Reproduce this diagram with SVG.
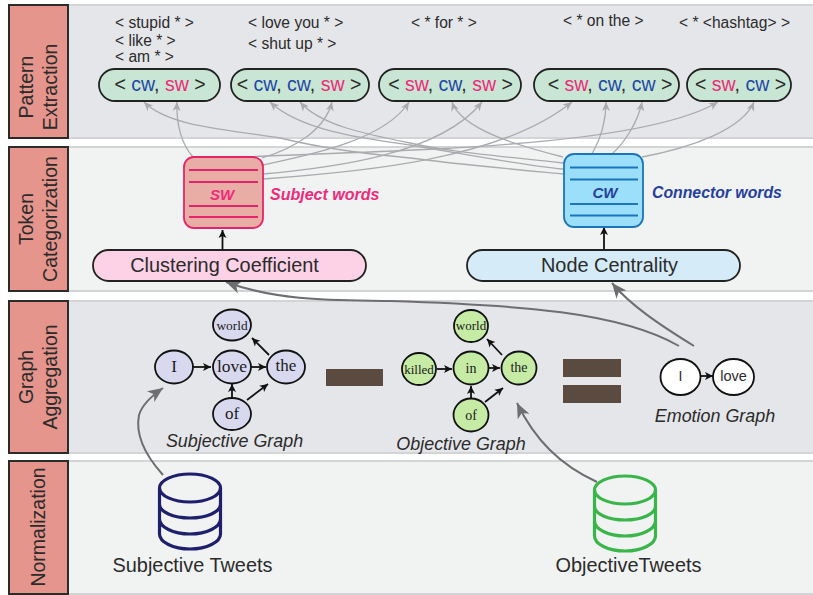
<svg xmlns="http://www.w3.org/2000/svg" width="813" height="595" viewBox="0 0 813 595">
<defs>
<marker id="ag" markerUnits="userSpaceOnUse" markerWidth="10" markerHeight="10" refX="9" refY="5" orient="auto" viewBox="0 0 10 10"><path d="M0,1 L9,5 L0,9 L2.5,5Z" fill="#a9abae"/></marker>
<marker id="ad" markerUnits="userSpaceOnUse" markerWidth="16" markerHeight="16" refX="15" refY="8" orient="auto" viewBox="0 0 16 16"><path d="M0,1.5 L15,8 L0,14.5 L4,8Z" fill="#6d6e71"/></marker>
<marker id="ab" markerUnits="userSpaceOnUse" markerWidth="10" markerHeight="10" refX="9" refY="5" orient="auto" viewBox="0 0 10 10"><path d="M1,1 L9,5 L1,9 L3,5Z" fill="#111"/></marker>
</defs>
<style>
text{font-family:"Liberation Sans",Arial,sans-serif;fill:#2b2b2b}
.ser{font-family:"Liberation Serif","Times New Roman",serif;text-anchor:middle;fill:#1a1a1a}
.m{text-anchor:middle}
.band1{fill:#e5e6e9;stroke:#d3d4d6;stroke-width:2}
.band2{fill:#f1f3f3;stroke:#d3d4d6;stroke-width:2}
.lab{fill:#e5958c;stroke:#2b2b2b;stroke-width:2}
.labt{font-size:19.500px;text-anchor:middle}
.pat{font-size:15.600px}
.pill{fill:#c8e6d3;stroke:#222;stroke-width:1.8}
.pt{font-size:19.500px;text-anchor:middle}
.c{fill:#1f46a5}
.s{fill:#ee2a7b}
.g{fill:none;stroke:#a9abae;stroke-width:1.3;marker-end:url(#ag)}
.d{fill:none;stroke:#6d6e71;stroke-width:2;marker-end:url(#ad)}
.b{fill:none;stroke:#111;stroke-width:1.8;marker-end:url(#ab)}
.sn{fill:#d8d9ee;stroke:#111;stroke-width:1.8}
.on{fill:#c6eba5;stroke:#111;stroke-width:1.8}
.en{fill:#fff;stroke:#111;stroke-width:1.8}
.it{font-size:17.900px;font-style:italic;text-anchor:middle}
.bar{fill:#5b4a40}
.sl{stroke:#e6246b;stroke-width:1.8}
.cl{stroke:#1b75bc;stroke-width:1.8}
.big{font-size:19.900px;text-anchor:middle}
</style>
<g id="bands">
<rect class="band1" x="68" y="5" width="746" height="133"/>
<rect class="band2" x="68" y="147" width="746" height="144"/>
<rect class="band1" x="68" y="301" width="746" height="152"/>
<rect class="band2" x="68" y="461" width="746" height="133"/>
</g>
<g id="stage-pattern"><rect class="lab" x="9" y="5" width="59" height="133"/>
<text class="labt" transform="translate(33,87) rotate(-90)">Pattern</text>
<text class="labt" transform="translate(57,87) rotate(-90)">Extraction</text></g>
<g id="stage-token"><rect class="lab" x="9" y="147" width="59" height="144"/>
<text class="labt" transform="translate(33,219) rotate(-90)">Token</text>
<text class="labt" transform="translate(57,219) rotate(-90)">Categorization</text></g>
<g id="stage-graph"><rect class="lab" x="9" y="301" width="59" height="152"/>
<text class="labt" transform="translate(33,377) rotate(-90)">Graph</text>
<text class="labt" transform="translate(57,377) rotate(-90)">Aggregation</text></g>
<g id="stage-norm"><rect class="lab" x="9" y="461" width="59" height="133"/>
<text class="labt" transform="translate(45,527) rotate(-90)">Normalization</text></g>

<g id="patterns">
<text class="pat" x="115" y="28">&lt; stupid * &gt;</text>
<text class="pat" x="115" y="46">&lt; like * &gt;</text>
<text class="pat" x="115" y="62">&lt; am * &gt;</text>
<text class="pat" x="248" y="28">&lt; love you * &gt;</text>
<text class="pat" x="248" y="49">&lt; shut up * &gt;</text>
<text class="pat" x="411" y="28">&lt; * for * &gt;</text>
<text class="pat" x="563" y="26">&lt; * on the &gt;</text>
<text class="pat" x="679" y="28">&lt; * &lt;hashtag&gt; &gt;</text>
</g>

<g id="connectors">
<path class="g" d="M563,174 C510,169 455,164 410,158 C370,154 330,150 280,138 C235,130 170,128 144,102"/>
<path class="g" d="M193,157 C182,145 176,125 177,102"/>
<path class="g" d="M563,169 C520,165 470,155 410,145 C360,138 300,130 270,102"/>
<path class="g" d="M563,163 C500,156 450,152 410,143 C365,134 320,125 300,102"/>
<path class="g" d="M262,158 C295,148 325,130 332,102"/>
<path class="g" d="M263,165 C310,155 385,140 409,102"/>
<path class="g" d="M263,174 C330,168 440,155 482,102"/>
<path class="g" d="M563,157 C520,146 462,130 452,102"/>
<path class="g" d="M263,179 C360,172 500,160 572,102"/>
<path class="g" d="M592,154 C600,140 606,122 606,102"/>
<path class="g" d="M612,154 C625,142 638,122 642,102"/>
<path class="g" d="M242,157 C400,150 640,148 718,102"/>
<path class="g" d="M642,157 C690,148 742,130 754,102"/>
<path class="d" d="M679,346 C620,312 520,305 390,301 C340,300 280,302 226,282"/>
<path class="d" d="M694,346 C660,325 630,305 612,283"/>
<path class="d" d="M163,475 C145,455 135,435 139,415 C142,405 150,397 163,388"/>
<path class="d" d="M597,482 C560,465 535,440 517,403"/>
<path class="b" d="M222.500,250 L222.500,230"/>
<path class="b" d="M604,250 L604,227"/>
<path class="b" d="M193,367 L211,367"/>
<path class="b" d="M251,367 L266,367"/>
<path class="b" d="M269,355 L252,338"/>
<path class="b" d="M232,398 L232,384"/>
<path class="b" d="M247,400 L268,384"/>
<path class="b" d="M437,369 L452,369"/>
<path class="b" d="M489,368 L500,368"/>
<path class="b" d="M502,355 L487,339"/>
<path class="b" d="M471,399 L471,386"/>
<path class="b" d="M485,402 L503,388"/>
<path class="b" d="M701,376 L713,376"/>
</g>

<g id="pill1"><rect class="pill" x="99" y="69" width="121" height="32" rx="16"/>
<text class="pt" x="160" y="91">&lt; <tspan class="c">cw</tspan>, <tspan class="s">sw</tspan> &gt;</text></g>
<g id="pill2"><rect class="pill" x="231" y="69" width="138" height="32" rx="16"/>
<text class="pt" x="299" y="91">&lt; <tspan class="c">cw</tspan>, <tspan class="c">cw</tspan>, <tspan class="s">sw</tspan> &gt;</text></g>
<g id="pill3"><rect class="pill" x="379" y="69" width="142" height="32" rx="16"/>
<text class="pt" x="450.500" y="91">&lt; <tspan class="s">sw</tspan>, <tspan class="c">cw</tspan>, <tspan class="s">sw</tspan> &gt;</text></g>
<g id="pill4"><rect class="pill" x="534" y="69" width="145" height="32" rx="16"/>
<text class="pt" x="610" y="91">&lt; <tspan class="s">sw</tspan>, <tspan class="c">cw</tspan>, <tspan class="c">cw</tspan> &gt;</text></g>
<g id="pill5"><rect class="pill" x="687" y="69" width="104" height="32" rx="16"/>
<text class="pt" x="740.500" y="91">&lt; <tspan class="s">sw</tspan>, <tspan class="c">cw</tspan> &gt;</text></g>

<g id="sw-box"><rect x="184" y="157" width="79" height="71" rx="10" fill="#e8aea6" stroke="#e6246b" stroke-width="1.8"/>
<path class="sl" d="M189,170H258M189,182H258M189,206H258M189,217H258"/>
<text x="222" y="200" font-size="15" font-weight="bold" font-style="italic" text-anchor="middle" style="fill:#ee2a7b">SW</text></g>
<text x="270" y="200" font-size="16" font-weight="bold" font-style="italic" style="fill:#ee2a7b">Subject words</text>
<g id="cw-box"><rect x="564" y="154" width="79" height="73" rx="10" fill="#9bdffb" stroke="#1b75bc" stroke-width="1.8"/>
<path class="cl" d="M570,167.500H638M570,179.500H638M570,204H638M570,215.500H638"/>
<text x="605" y="198" font-size="15" font-weight="bold" font-style="italic" text-anchor="middle" style="fill:#26409c">CW</text></g>
<text x="652" y="198" font-size="15.800" font-weight="bold" font-style="italic" style="fill:#26409c">Connector words</text>

<g id="clustering"><rect x="93" y="250" width="273" height="31" rx="15.500" ry="15.500" fill="#fdd2e6" stroke="#222" stroke-width="1.8"/>
<text class="big" x="224.500" y="272">Clustering Coefficient</text></g>
<g id="centrality"><rect x="467" y="250" width="273" height="31" rx="15.500" ry="15.500" fill="#d5ecf8" stroke="#222" stroke-width="1.8"/>
<text class="big" x="609.500" y="272">Node Centrality</text></g>

<g id="subj-i"><ellipse class="sn" cx="174" cy="367" rx="19" ry="16.500"/><text class="ser" x="174" y="372" font-size="17">I</text></g>
<g id="subj-love"><ellipse class="sn" cx="232" cy="367" rx="19" ry="16.500"/><text class="ser" x="232" y="372" font-size="17.500">love</text></g>
<g id="subj-the"><ellipse class="sn" cx="286" cy="367" rx="19" ry="16.500"/><text class="ser" x="286" y="371" font-size="17">the</text></g>
<g id="subj-world"><ellipse class="sn" cx="232" cy="325" rx="19" ry="15.500"/><text class="ser" x="232" y="330" font-size="13.400">world</text></g>
<g id="subj-of"><ellipse class="sn" cx="232" cy="414" rx="19" ry="16"/><text class="ser" x="232" y="419" font-size="17">of</text></g>
<text class="it" x="234.500" y="447">Subjective Graph</text>
<rect class="bar" x="326" y="369" width="57" height="17"/>

<g id="obj-killed"><ellipse class="on" cx="419" cy="369" rx="17" ry="16"/><text class="ser" x="419" y="374" font-size="13">killed</text></g>
<g id="obj-in"><ellipse class="on" cx="471" cy="368" rx="17.500" ry="16.500"/><text class="ser" x="471" y="373" font-size="14">in</text></g>
<g id="obj-the"><ellipse class="on" cx="519" cy="368" rx="17.500" ry="16.500"/><text class="ser" x="519" y="372" font-size="14">the</text></g>
<g id="obj-world"><ellipse class="on" cx="471" cy="326" rx="17" ry="16"/><text class="ser" x="471" y="330" font-size="13">world</text></g>
<g id="obj-of"><ellipse class="on" cx="471" cy="415" rx="17.500" ry="16.500"/><text class="ser" x="471" y="420" font-size="14">of</text></g>
<text class="it" x="461" y="450">Objective Graph</text>
<rect class="bar" x="563" y="359" width="58" height="18"/>
<rect class="bar" x="563" y="385" width="58" height="18"/>

<g id="emo-i"><ellipse class="en" cx="680.500" cy="377" rx="20" ry="18"/><text class="m" x="680.500" y="381" font-size="14">I</text></g>
<g id="emo-love"><ellipse class="en" cx="733.500" cy="377" rx="20.500" ry="18"/><text class="m" x="733.500" y="381" font-size="14.500">love</text></g>
<text class="it" x="715" y="422">Emotion Graph</text>

<g id="subjective-tweets" fill="none" stroke="#1f1f6b" stroke-width="3.200">
<ellipse cx="190" cy="488" rx="30.500" ry="14"/>
<path d="M159.500,488V534C159.500,542 173,549 190,549C207,549 220.500,542 220.500,534V488M159.500,504C159.500,512 173,518 190,518C207,518 220.500,512 220.500,504M159.500,519C159.500,527 173,534 190,534C207,534 220.500,527 220.500,519"/>
<text class="big" x="192.500" y="572" stroke="none">Subjective Tweets</text></g>
<g id="objective-tweets" fill="none" stroke="#39b54a" stroke-width="3.200">
<ellipse cx="625" cy="490" rx="30.500" ry="14"/>
<path d="M594.500,490V536C594.500,544 608,551 625,551C642,551 655.500,544 655.500,536V490M594.500,506C594.500,514 608,520 625,520C642,520 655.500,514 655.500,506M594.500,521C594.500,529 608,536 625,536C642,536 655.500,529 655.500,521"/>
<text class="big" x="628.500" y="572" stroke="none">ObjectiveTweets</text></g>
</svg>
